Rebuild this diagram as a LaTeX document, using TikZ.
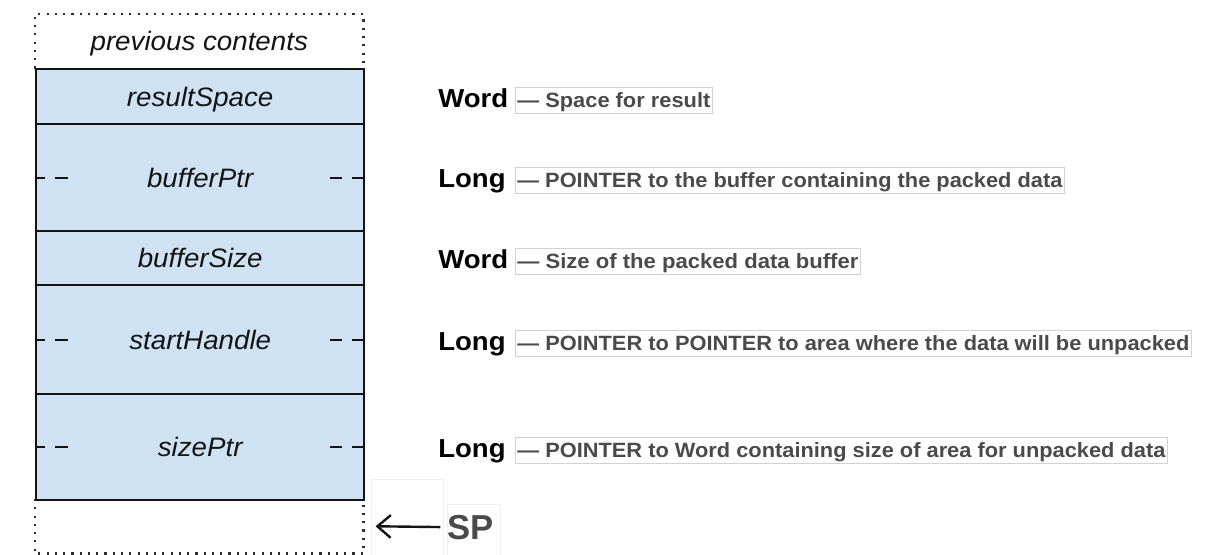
\documentclass[tikz,border=0pt]{standalone}
\usepackage{fontspec}
\setmainfont{Liberation Sans}
\usetikzlibrary{arrows.meta}
\definecolor{cellblue}{HTML}{CFE2F3}
\definecolor{desctext}{HTML}{4A4A4A}
\definecolor{dotgray}{HTML}{2E2E2E}
\definecolor{ink}{HTML}{141414}
\newcommand{\descw}[2]{\resizebox{#1}{\height}{#2}}
\begin{document}
\begin{tikzpicture}[x=0.75pt,y=-0.75pt,
  cellbox/.style={draw=ink, line width=1.8pt, fill=cellblue, minimum width=246pt,
    inner sep=0pt, anchor=north west, text height=14.25pt, text depth=0pt,
    font=\itshape\fontsize{20pt}{24pt}\selectfont, text=ink},
  blankbox/.style={minimum width=246pt, inner sep=0pt, anchor=north west,
    text height=14.25pt, text depth=0pt,
    font=\itshape\fontsize{20pt}{24pt}\selectfont, text=ink},
  dotline/.style={draw=dotgray, line width=1.8pt, dash pattern=on 1.6pt off 4.6pt},
  dashmark/.style={draw=ink, line width=1.8pt},
  typeword/.style={anchor=base west, inner sep=0pt, font=\bfseries\fontsize{19.5pt}{23pt}\selectfont, text=black},
  descbox/.style={anchor=base west, draw=gray!35, line width=0.6pt, inner xsep=1.5pt, inner ysep=4.5pt,
    text height=10.5pt, text depth=0pt, font=\bfseries\fontsize{15.5pt}{18pt}\selectfont, text=desctext},
  faint/.style={draw=gray!12, line width=0.6pt}
]
\useasboundingbox (0,0) rectangle (1218,554);

% dotted boxes (previous contents and empty slot below SP)
\node[blankbox, minimum height=40.5pt] (prev) at (35,14) {\scalebox{1.04}[1]{previous contents}};
\node[blankbox, minimum height=40.5pt] (bot) at (35,499) {};
\draw[dotline] (prev.south west) -- (prev.north west) -- (prev.north east) -- (prev.south east);
\draw[dotline] (bot.north west) -- (bot.south west) -- (bot.south east) -- (bot.north east);

% faint frames
\draw[faint] (371,479) rectangle (443,556);
\draw[faint] (447,504) rectangle (500,556);

% stack cells
\node[cellbox, minimum height=41.25pt] (rs) at (35,68)  {\scalebox{1.04}[1]{resultSpace}};
\node[cellbox, minimum height=80.25pt] (bp) at (35,123) {\scalebox{1.04}[1]{bufferPtr}};
\node[cellbox, minimum height=40.5pt]  (bs) at (35,230) {\scalebox{1.04}[1]{bufferSize}};
\node[cellbox, minimum height=81.75pt] (sh) at (35,284) {\scalebox{1.04}[1]{startHandle}};
\node[cellbox, minimum height=79.5pt]  (sz) at (35,393) {\scalebox{1.04}[1]{sizePtr}};

% dash marks for long (two-word) entries
\foreach \c in {bp,sh,sz}{
  \draw[dashmark] (\c.west) -- ++(10,0);
  \draw[dashmark] (\c.west) ++(20,0) -- ++(13,0);
  \draw[dashmark] (\c.east) ++(-35,0) -- ++(12,0);
  \draw[dashmark] (\c.east) ++(-13,0) -- ++(13,0);
}

% right-hand descriptions
\node[typeword] (t1) at (438,107) {\scalebox{1.06}[1]{Word}};
\node[descbox]  (d1) at (515,107) {\descw{144.75pt}{— Space for result}};
\node[typeword] (t2) at (438,187) {\scalebox{1.06}[1]{Long}};
\node[descbox]  (d2) at (515,187) {\descw{408.75pt}{— POINTER to the buffer containing the packed data}};
\node[typeword] (t3) at (438,268) {\scalebox{1.06}[1]{Word}};
\node[descbox]  (d3) at (515,268) {\descw{255.75pt}{— Size of the packed data buffer}};
\node[typeword] (t4) at (438,350) {\scalebox{1.06}[1]{Long}};
\node[descbox]  (d4) at (515,350) {\descw{504pt}{— POINTER to POINTER to area where the data will be unpacked}};
\node[typeword] (t5) at (438,457) {\scalebox{1.06}[1]{Long}};
\node[descbox]  (d5) at (515,457) {\descw{486pt}{— POINTER to Word containing size of area for unpacked data}};

% stack pointer
\node[anchor=base west, inner sep=0pt, font=\bfseries\fontsize{26pt}{30pt}\selectfont, text=desctext] (sp) at (447,539) {SP};
\draw[line width=1.8pt, ink, -{Straight Barb[length=10pt,width=17pt,line width=1.8pt]}]
  ([xshift=-5pt]sp.west) -- ([xshift=9pt]bot.east);
\end{tikzpicture}
\end{document}
